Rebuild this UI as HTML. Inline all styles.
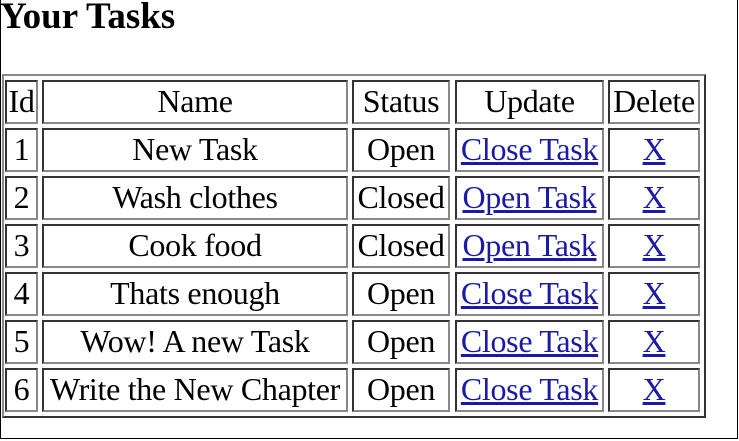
<!DOCTYPE html>
<html><head><style>
body{margin:0;width:739px;height:441px;position:relative;overflow:hidden;background:#fff;font-family:"Liberation Serif",serif;}
.page{position:absolute;left:0;top:-2px;width:738px;height:441px;border:1px solid #000;box-sizing:border-box;}
h1{position:absolute;left:0;top:-4px;margin:0;font-size:37px;line-height:42px;font-weight:bold;white-space:nowrap;}
.tbl{position:absolute;left:2px;top:74px;width:704px;height:344px;box-sizing:border-box;border:2px solid;border-color:#888 #333 #333 #888;}
.c{position:absolute;box-sizing:border-box;border:2px solid;border-color:#333 #888 #888 #333;height:44px;font-size:32px;line-height:38px;text-align:center;white-space:nowrap;color:#000;letter-spacing:-0.3px;}
a{color:#1a1aa6;text-decoration:underline;}
</style></head><body>
<div class="page"></div>
<h1>Your Tasks</h1>
<div class="tbl"></div>
<div id="t"></div>
<script>
var cols=[[5,33],[42,306],[352,98],[455,149],[608,92]];
var rows=[["Id","Name","Status","Update","Delete"],
["1","New Task","Open","<a>Close Task</a>","<a>X</a>"],
["2","Wash clothes","Closed","<a>Open Task</a>","<a>X</a>"],
["3","Cook food","Closed","<a>Open Task</a>","<a>X</a>"],
["4","Thats enough","Open","<a>Close Task</a>","<a>X</a>"],
["5","Wow! A new Task","Open","<a>Close Task</a>","<a>X</a>"],
["6","Write the New Chapter","Open","<a>Close Task</a>","<a>X</a>"]];
var h="";
for(var r=0;r<rows.length;r++){for(var c=0;c<5;c++){h+='<div class="c" style="left:'+cols[c][0]+'px;top:'+(80+48*r)+'px;width:'+cols[c][1]+'px">'+rows[r][c]+'</div>';}}
document.getElementById("t").innerHTML=h;
</script>
</body></html>
